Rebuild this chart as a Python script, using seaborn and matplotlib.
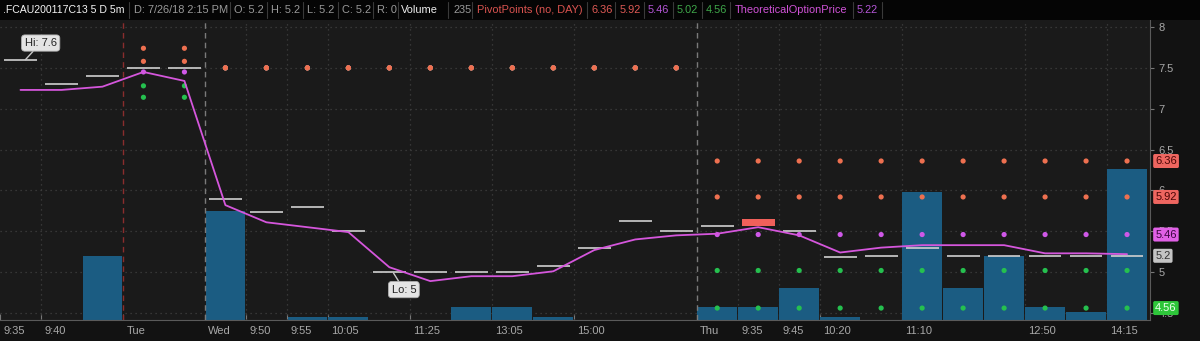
import matplotlib
matplotlib.use("Agg")
import matplotlib.pyplot as plt
import matplotlib.transforms as mtransforms
from matplotlib.patches import Rectangle
import numpy as np
import pandas as pd
import seaborn as sns

# ---------------- data ----------------
slots = list(range(28))
tick_slots = [0, 1, 3, 5, 6, 7, 8, 10, 12, 14, 17, 18, 19, 20, 22, 25, 27]
tick_labels = ["9:35", "9:40", "Tue", "Wed", "9:50", "9:55", "10:05", "11:25",
               "13:05", "15:00", "Thu", "9:35", "9:45", "10:20", "11:10", "12:50", "14:15"]

price_open = [7.6, 7.3, 7.4, 7.5, 7.5, 5.9, 5.73, 5.8, 5.5, 5.0, 5.0, 5.0, 5.0, 5.08,
              5.3, 5.62, 5.5, 5.56, 5.65, 5.5, 5.18, 5.2, 5.3, 5.2, 5.2, 5.2, 5.2, 5.2]
price_close = [7.6, 7.3, 7.4, 7.5, 7.5, 5.9, 5.73, 5.8, 5.5, 5.0, 5.0, 5.0, 5.0, 5.08,
               5.3, 5.62, 5.5, 5.56, 5.56, 5.5, 5.18, 5.2, 5.3, 5.2, 5.2, 5.2, 5.2, 5.2]
theo_price = [7.23, 7.23, 7.27, 7.45, 7.34, 5.82, 5.61, 5.55, 5.49, 5.06, 4.89, 4.95,
              4.95, 5.01, 5.27, 5.40, 5.45, 5.47, 5.55, 5.45, 5.24, 5.30, 5.33, 5.33,
              5.33, 5.23, 5.23, 5.22]
volume = [0, 0, 100, 0, 0, 170, 0, 5, 5, 0, 0, 20, 20, 5, 0, 0, 0, 20, 20, 50, 5, 0,
          200, 50, 100, 20, 12, 235]

slot_day = ["Mon", "Mon", "Mon", "Tue", "Tue", "Wed", "Wed", "Wed", "Wed", "Wed", "Wed",
            "Wed", "Wed", "Wed", "Wed", "Wed", "Wed", "Thu", "Thu", "Thu", "Thu", "Thu",
            "Thu", "Thu", "Thu", "Thu", "Thu", "Thu"]
pivot_levels = ["S2", "S1", "PP", "R1", "R2"]
pivots_by_day = {
    "Tue": [7.14, 7.28, 7.45, 7.58, 7.74],
    "Wed": [7.5, 7.5, 7.5, 7.5, 7.5],
    "Thu": [4.56, 5.02, 5.46, 5.92, 6.36],
}

header_texts = [".FCAU200117C13 5 D 5m", "D: 7/26/18 2:15 PM", "O: 5.2", "H: 5.2",
                "L: 5.2", "C: 5.2", "R: 0", "Volume", "235", "PivotPoints (no, DAY)",
                "6.36", "5.92", "5.46", "5.02", "4.56", "TheoreticalOptionPrice", "5.22"]
header_x = [3, 134, 234, 271, 307, 342, 377, 401, 453, 477, 592, 620, 648, 677, 706, 735, 857]
header_colors = ["#f4f4f4", "#9a9a9a", "#9a9a9a", "#9a9a9a", "#9a9a9a", "#9a9a9a",
                 "#9a9a9a", "#eeeeee", "#9a9a9a", "#d9534f", "#e05a55", "#e05a55",
                 "#b556d8", "#3fa84a", "#3fa84a", "#cf52d6", "#b556d8"]
header_seps = [129, 230, 267, 303, 338, 373, 398, 448, 472, 587, 615, 644, 673, 702, 730, 853, 882]

# ---------------- style ----------------
W, H = 1200, 341
fig = plt.figure(figsize=(W / 100, H / 100), dpi=100)
sns.set_style("dark")
plt.rcParams["font.family"] = ["Liberation Sans", "DejaVu Sans"]
fig.patch.set_facecolor("#121212")

ax_left, ax_right_px, ax_top_px, ax_bot_px = 0, 1150, 20, 320
ax_vol = fig.add_axes([ax_left / W, (H - ax_bot_px) / H,
                       (ax_right_px - ax_left) / W, (ax_bot_px - ax_top_px) / H])
ax_vol.set_facecolor("#1a1a1a")
ax = ax_vol.twinx()

xlim = (-0.5, 27.56)
ylim = (4.414, 8.086)

# volume bars (behind)
sns.barplot(x=slots, y=volume, ax=ax_vol, color="#1b5c82", width=0.97,
            saturation=1, native_scale=True, linewidth=0, edgecolor="none", zorder=2)

# grid (behind bars)
grid_prices = [4.5, 5.0, 5.5, 6.0, 6.5, 7.0, 7.5, 8.0]
ax_vol.hlines(grid_prices, xlim[0], xlim[1], transform=ax.transData,
              colors="#404040", linestyles=(0, (1, 3)), linewidth=0.9, zorder=1)
for s in tick_slots:
    if s in (3, 5, 17, 0):
        continue
    ax_vol.axvline(s - 0.5, color="#404040", linestyle=(0, (1, 3)), linewidth=0.9, zorder=1)
ax_vol.axvline(2.5, color="#8a2d2d", linestyle=(0, (4, 3)), linewidth=1.0, zorder=3)
for s in (4.5, 16.5):
    ax_vol.axvline(s, color="#7a7a7a", linestyle=(0, (4, 3)), linewidth=1.0, zorder=3)

ax_vol.set_xlim(*xlim)
ax_vol.set_ylim(0, 467)
ax_vol.set_yticks([])
ax_vol.set_xlabel("")
ax_vol.set_ylabel("")
ax_vol.set_xticks([s - 0.5 for s in tick_slots])
ax_vol.set_xticklabels(tick_labels)
ax_vol.tick_params(axis="x", colors="#777777", labelcolor="#a8a8a8", labelsize=8,
                   direction="in", length=4, width=0.8, pad=4, bottom=True)
offset = mtransforms.ScaledTranslation(2.5 / 72, 0, fig.dpi_scale_trans)
for lbl in ax_vol.get_xticklabels():
    lbl.set_horizontalalignment("left")
    lbl.set_transform(lbl.get_transform() + offset)
for side in ("left", "top", "right"):
    ax_vol.spines[side].set_visible(False)
ax_vol.spines["bottom"].set_color("#5a5a5a")

# pivot points
piv_rows = []
for lvl_i, lvl in enumerate(pivot_levels):
    for s, d in zip(slots, slot_day):
        if d in pivots_by_day:
            piv_rows.append({"slot": s, "value": pivots_by_day[d][lvl_i], "level": lvl})
piv_df = pd.DataFrame(piv_rows)
piv_palette = {"R2": "#ee7050", "R1": "#ee7050", "PP": "#cf58e8",
               "S1": "#25c04f", "S2": "#25c04f"}
sns.scatterplot(data=piv_df, x="slot", y="value", hue="level", palette=piv_palette,
                s=14, linewidth=0, legend=False, ax=ax, zorder=4)

# price dashes and candle
dash_x = [s for s in slots if price_open[s] == price_close[s]]
dash_y = [price_close[s] for s in dash_x]
ax.hlines(dash_y, [x - 0.4 for x in dash_x], [x + 0.4 for x in dash_x],
          colors="#d0d0d0", linewidth=1.2, zorder=5)
candle_x = [s for s in slots if price_open[s] != price_close[s]]
ax.bar(candle_x, [price_open[s] - price_close[s] for s in candle_x],
       bottom=[price_close[s] for s in candle_x], width=0.8, color="#f0605a",
       linewidth=0, edgecolor="none", zorder=5)

# theoretical option price line
sns.lineplot(x=slots, y=theo_price, ax=ax, color="#d556dc", linewidth=1.3, zorder=6)

ax.set_xlim(*xlim)
ax.set_ylim(*ylim)
ax.set_xlabel("")
ax.set_ylabel("")
ax.set_yticks(grid_prices)
ax.set_yticklabels(["4.5", "5", "5.5", "6", "6.5", "7", "7.5", "8"])
ax.tick_params(axis="y", colors="#777777", labelcolor="#a8a8a8", labelsize=8,
               direction="out", length=3, width=0.8, pad=3, right=True)
for side in ("left", "top", "bottom"):
    ax.spines[side].set_visible(False)
ax.spines["right"].set_color("#5a5a5a")

# hi / lo bubbles
bub = dict(boxstyle="round,pad=0.28,rounding_size=0.3", fc="#e4e4e4", ec="#b0b0b0", lw=0.6)
ax.annotate("Hi: 7.6", xy=(0.12, 7.6), xytext=(11, 12), textcoords="offset points",
            fontsize=8, color="#222222", ha="center", va="center", bbox=bub, zorder=8,
            arrowprops=dict(arrowstyle="-", color="#c8c8c8", lw=1.0, shrinkA=0, shrinkB=0))
ax.annotate("Lo: 5", xy=(9.1, 4.99), xytext=(7.5, -12), textcoords="offset points",
            fontsize=8, color="#222222", ha="center", va="center", bbox=bub, zorder=8,
            arrowprops=dict(arrowstyle="-", color="#c8c8c8", lw=1.0, shrinkA=0, shrinkB=0))

# right axis value boxes
box_vals = [6.36, 5.92, 5.46, 5.2, 4.56]
box_txt = ["6.36", "5.92", "5.46", "5.2", "4.56"]
box_fc = ["#ee6660", "#ee6660", "#e060e6", "#c4c4c4", "#2ec63a"]
box_tc = ["#4a0505", "#4a0505", "#3a0540", "#333333", "#eaffea"]
trans = mtransforms.blended_transform_factory(ax.transAxes, ax.transData)
for v, t, fc, tc in zip(box_vals, box_txt, box_fc, box_tc):
    ax.text(1.0045, v, t, transform=trans, fontsize=8, color=tc, ha="left", va="center",
            clip_on=False, zorder=10,
            bbox=dict(boxstyle="round,pad=0.18,rounding_size=0.15", fc=fc, ec="none"))

# header strip
fig.patches.append(Rectangle((0, 1 - 20 / H), 1, 20 / H, transform=fig.transFigure,
                             facecolor="#050505", edgecolor="none", zorder=0))
for t, x, c in zip(header_texts, header_x, header_colors):
    is_title = t.startswith(".FCAU")
    fig.text(x / W, 1 - 10 / H, t, color=c, fontsize=7.6 if is_title else 7.9,
             ha="left", va="center")
for x in header_seps:
    fig.add_artist(plt.Line2D([x / W, x / W], [1 - 18 / H, 1 - 2 / H],
                              transform=fig.transFigure, color="#3a3a3a", lw=0.8))

fig.savefig("out.png", dpi=100, facecolor=fig.get_facecolor())
